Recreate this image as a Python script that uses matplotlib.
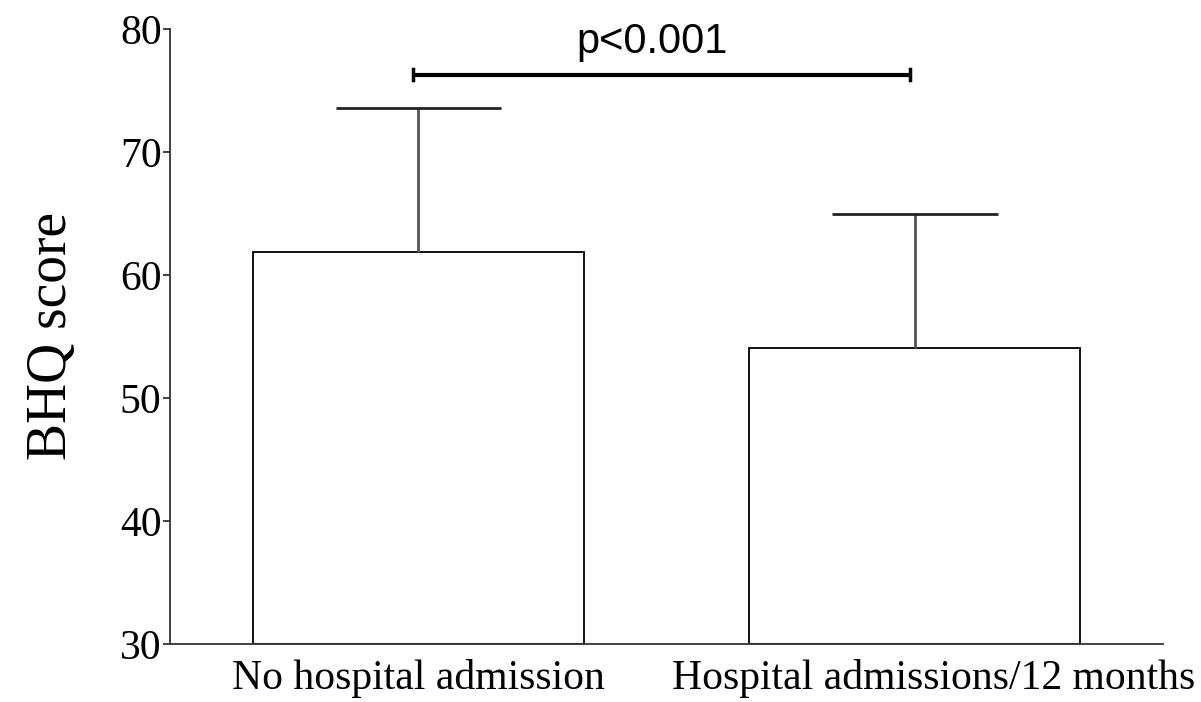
import matplotlib
matplotlib.use("Agg")
import matplotlib.pyplot as plt
from matplotlib.transforms import ScaledTranslation
import numpy as np

categories = ["No hospital admission", "Hospital admissions/12 months"]
means = [61.85, 54.05]
sd_upper = [11.7, 10.9]
p_text = "p<0.001"
sig_y = 76.3
yticks = [30, 40, 50, 60, 70, 80]

plt.rcParams['font.family'] = ['Liberation Serif', 'DejaVu Serif']

fig = plt.figure(figsize=(12.01, 7.02), dpi=100)
ax = fig.add_axes([170/1201, 1-644/702, (1163-170)/1201, (644-29)/702])

x = np.arange(len(categories))
width = 2/3
ax.bar(x, np.array(means) - 30, bottom=30, width=width, color='white',
       edgecolor='black', linewidth=1.3, zorder=2)

tops = np.array(means) + np.array(sd_upper)
ax.vlines(x, means, tops, color='#555555', linewidth=2, zorder=3)
ax.hlines(tops, x - width/4, x + width/4, color='#222222', linewidth=2, zorder=3)

# significance bracket
x0, x1 = x[0] - 0.01, x[1] - 0.01
ax.plot([x0, x1], [sig_y, sig_y], color='black', linewidth=3.0, solid_capstyle='butt', zorder=4)
for xx in (x0, x1):
    ax.plot([xx, xx], [sig_y - 0.45, sig_y + 0.45], color='black', linewidth=2.5, zorder=4)
ax.text((x0 + x1) / 2 - 0.02, sig_y + 1.0, p_text, ha='center', va='bottom',
        fontsize=30, family=['Liberation Sans', 'DejaVu Sans'])

ax.set_xlim(-0.5, 1.5)
ax.set_ylim(30, 80)
ax.set_yticks(yticks)
ax.set_xticks(x)
ax.set_xticklabels(categories, fontsize=30)
ax.tick_params(axis='y', labelsize=30, length=5, width=1.3, color='#333333', direction='out', pad=1)
ax.tick_params(axis='x', length=0, pad=11)
# second label sits slightly right of its bar centre in the reference
lbl = ax.get_xticklabels()[1]
lbl.set_transform(lbl.get_transform() + ScaledTranslation(19/100, 0, fig.dpi_scale_trans))
for s in ['top', 'right']:
    ax.spines[s].set_visible(False)
for s in ['left', 'bottom']:
    ax.spines[s].set_linewidth(1.3)
    ax.spines[s].set_color('#333333')

ax.set_ylabel("BHQ score", fontsize=40, labelpad=30)

fig.savefig("out.png", dpi=100)
